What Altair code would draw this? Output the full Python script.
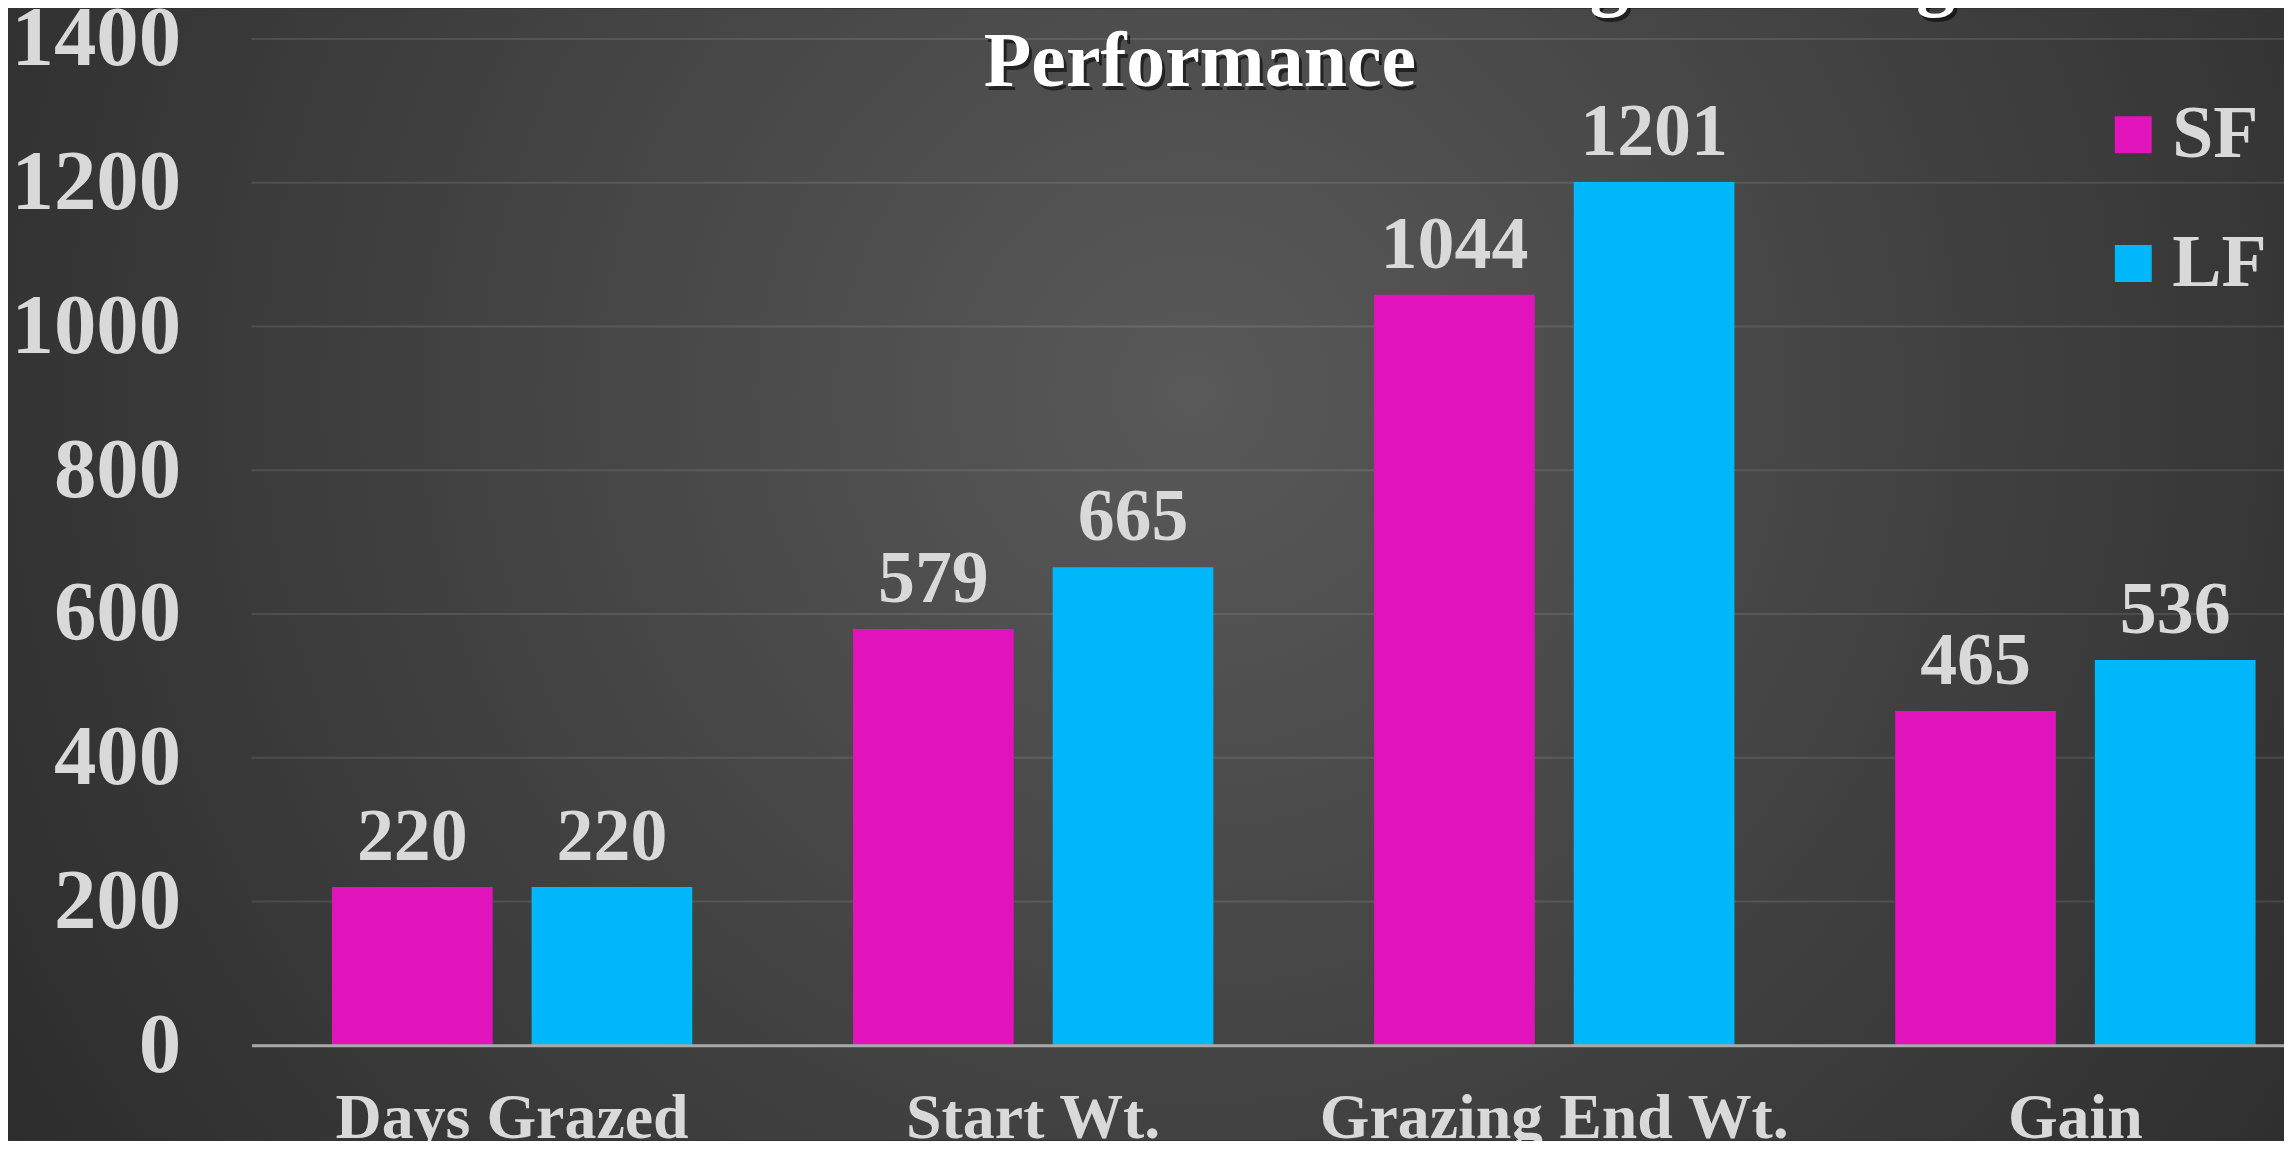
import altair as alt
import pandas as pd

categories = ["Days Grazed", "Start Wt.", "Grazing End Wt.", "Gain"]
series = ["SF", "LF"]
sf_values = [220, 579, 1044, 465]
lf_values = [220, 665, 1201, 536]
y_ticks = [0, 200, 400, 600, 800, 1000, 1200, 1400]
title_lines = ["Combined Pasture & Annual Forage Grazing", "Performance"]
colors = ["#E113BB", "#00B8F9"]

rows = []
for c, s, l in zip(categories, sf_values, lf_values):
    rows.append({"category": c, "series": "SF", "value": s})
    rows.append({"category": c, "series": "LF", "value": l})
df = pd.DataFrame(rows)

W, H = 2036, 1008
PAD_L, PAD_T, PAD_B = 244, 30, 95
FONT = "Liberation Serif"
TXT = "#d9d9d9"

bg = alt.Chart(pd.DataFrame({"k": [0]})).mark_rect(
    color=alt.RadialGradient(
        gradient="radial",
        stops=[alt.GradientStop(offset=0, color="#595959"),
               alt.GradientStop(offset=1, color="#252525")],
        x1=0.52, y1=0.42, x2=0.52, y2=0.42, r1=0, r2=0.72,
    )
).encode(x=alt.value(-PAD_L), x2=alt.value(W), y=alt.value(-PAD_T), y2=alt.value(H + PAD_B))

grid = alt.Chart(pd.DataFrame({"value": y_ticks})).mark_rule(
    color="#ffffff", opacity=0.1, strokeWidth=2
).encode(y=alt.Y("value:Q"), x=alt.value(0), x2=alt.value(W))

x_enc = alt.X(
    "category:N", sort=categories,
    scale=alt.Scale(range=[0, 2088], paddingInner=0.3084, paddingOuter=0.1542),
    axis=alt.Axis(title=None, labelAngle=0, labelFont=FONT, labelFontWeight="bold",
                  labelFontSize=64, labelColor=TXT, labelPadding=41, ticks=False,
                  labelLimit=800,
                  domainColor="#a8a8a8", domainWidth=3, labelBaseline="top", zindex=1),
)
xo_enc = alt.XOffset("series:N", sort=series, scale=alt.Scale(paddingInner=0.195, paddingOuter=0))
y_enc = alt.Y(
    "value:Q", scale=alt.Scale(domain=[0, 1400], nice=False),
    axis=alt.Axis(values=y_ticks, title=None, grid=False, domain=False, ticks=False,
                  format="d", labelLimit=400,
                  labelFont=FONT, labelFontWeight="bold", labelFontSize=85,
                  labelColor=TXT, labelPadding=71, zindex=1),
)

base = alt.Chart(df)
bars = base.mark_bar().encode(
    x=x_enc, xOffset=xo_enc, y=y_enc,
    color=alt.Color("series:N", sort=series,
                    scale=alt.Scale(domain=series, range=colors),
                    legend=alt.Legend(title=None, orient="none", legendX=1848, legendY=59,
                                      symbolType="square", symbolSize=1369,
                                      labelFontSize=74, labelFont=FONT, labelFontWeight="bold",
                                      labelColor=TXT, labelOffset=2, rowPadding=55,
                                      symbolStrokeWidth=0, symbolOpacity=1, padding=0,
                                      zindex=1)),
)
labels = base.mark_text(
    dy=-27, baseline="alphabetic", fontSize=74, font=FONT, fontWeight="bold", color=TXT
).encode(x=x_enc, xOffset=xo_enc, y=y_enc, text="value:Q")

title_base = alt.Chart(pd.DataFrame({"k": [0]}))
title_shadow = title_base.mark_text(
    align="center", baseline="alphabetic", fontSize=78, font=FONT, fontWeight="bold",
    color="#000000", opacity=0.55, lineHeight=85, dx=3, dy=4,
).encode(x=alt.value(950), y=alt.value(-38), text=alt.value(title_lines))
title_text = title_base.mark_text(
    align="center", baseline="alphabetic", fontSize=78, font=FONT, fontWeight="bold",
    color="#ffffff", lineHeight=85,
).encode(x=alt.value(950), y=alt.value(-38), text=alt.value(title_lines))

chart = alt.layer(bg, grid, bars, labels, title_shadow, title_text).properties(
    width=W, height=H,
    padding={"left": PAD_L, "top": PAD_T, "right": 0, "bottom": PAD_B},
    autosize=alt.AutoSizeParams(type="none"),
).configure_view(stroke=None).configure(background="#333333")

chart.save("out.html", embed_options={"renderer": "svg", "actions": False})
